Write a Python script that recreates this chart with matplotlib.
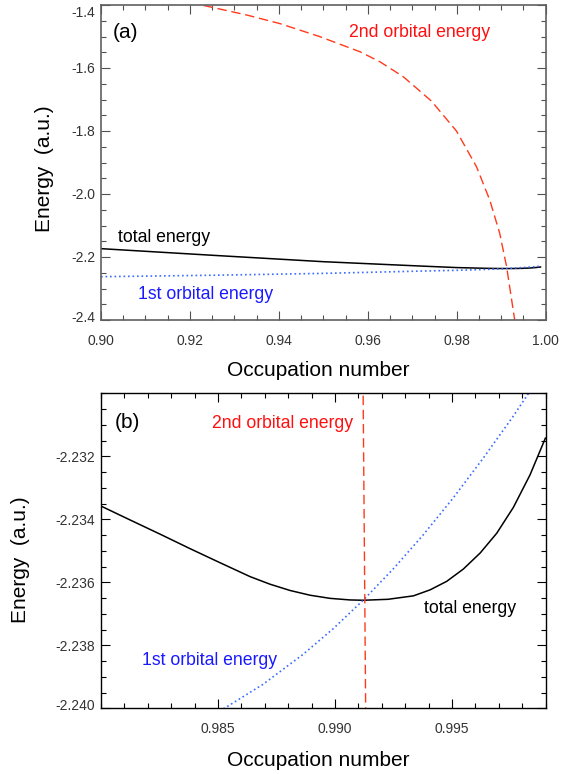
import matplotlib
matplotlib.use("Agg")
import matplotlib.pyplot as plt
import matplotlib.transforms as mtransforms
import numpy as np

plt.rcParams['font.family'] = ['Liberation Sans', 'DejaVu Sans']

# ---------------- data ----------------
occ_total = [0.900, 0.925, 0.950, 0.9717, 0.98000, 0.98124, 0.98252, 0.98380, 0.98509,
             0.98637, 0.98722, 0.98808, 0.98893, 0.98979, 0.99064, 0.99120, 0.99226,
             0.99335, 0.99406, 0.99477, 0.99548, 0.99620, 0.99691, 0.99762, 0.99833,
             0.99900]
e_total = [-2.1735, -2.1945, -2.2149, -2.2286, -2.23358, -2.23402, -2.23447, -2.23493,
           -2.23538, -2.23582, -2.23606, -2.23626, -2.23641, -2.23651, -2.23656,
           -2.23657, -2.23654, -2.23643, -2.23624, -2.23597, -2.23558, -2.23507,
           -2.23444, -2.23362, -2.23259, -2.23140]

occ_first = [0.900, 0.925, 0.950, 0.9717, 0.98000, 0.98534, 0.98692, 0.98863, 0.98991,
             0.99120, 0.99248, 0.99376, 0.99504, 0.99632, 0.99761, 0.99825, 0.99900]
e_first = [-2.2625, -2.2580, -2.2520, -2.2448, -2.2422, -2.23997, -2.23924, -2.23829,
           -2.23748, -2.23657, -2.23558, -2.23450, -2.23333, -2.23207, -2.23073,
           -2.23002, -2.22916]

occ_second = [0.9200, 0.92263, 0.93274, 0.94022, 0.94921, 0.95820, 0.96270, 0.96800,
              0.97431, 0.97993, 0.98443, 0.98742, 0.98966, 0.99120, 0.99303, 0.99320]
e_second = [-1.3900, -1.4000, -1.4317, -1.4590, -1.5005, -1.5482, -1.5800, -1.6280,
            -1.7050, -1.8000, -1.9132, -2.0190, -2.1248, -2.2300, -2.4000, -2.4200]

xticks_a = [0.90, 0.92, 0.94, 0.96, 0.98, 1.00]
xticklabels_a = ['0.90', '0.92', '0.94', '0.96', '0.98', '1.00']
yticks_a = [-2.4, -2.2, -2.0, -1.8, -1.6, -1.4]
yticklabels_a = ['-2.4', '-2.2', '-2.0', '-1.8', '-1.6', '-1.4']

xticks_b = [0.985, 0.990, 0.995]
xticklabels_b = ['0.985', '0.990', '0.995']
yticks_b = [-2.240, -2.238, -2.236, -2.234, -2.232]
yticklabels_b = ['-2.240', '-2.238', '-2.236', '-2.234', '-2.232']

labels_series = ['total energy', '1st orbital energy', '2nd orbital energy']

# ---------------- styling ----------------
W, H = 574, 774
DPI = 100
fig = plt.figure(figsize=(W / DPI, H / DPI), dpi=DPI)

def px_rect(l, t, r, b):
    return [l / W, 1 - b / H, (r - l) / W, (b - t) / H]

ax_a = fig.add_axes(px_rect(101, 5, 545.7, 320))
ax_b = fig.add_axes(px_rect(101, 393.3, 545.7, 708.3))

BLACK = '#000000'
BLUE_LINE = '#3a6cff'
RED_LINE = '#ff3a1a'
BLUE_TXT = '#1a1aff'
RED_TXT = '#ff1010'
TICK_TXT = '#333333'

for ax in (ax_a, ax_b):
    ax.plot(occ_total, e_total, color=BLACK, lw=1.1, solid_capstyle='butt',
            solid_joinstyle='round')
    ax.plot(occ_first, e_first, color=BLUE_LINE, lw=1.2, linestyle=(0, (1.0, 1.7)))
    ax.plot(occ_second, e_second, color=RED_LINE, lw=1.0, linestyle=(0, (6.8, 3.4)))
    ax.tick_params(which='both', direction='in', top=True, right=True,
                   labelsize=10, labelcolor=TICK_TXT, width=0.8)
    ax.tick_params(which='major', length=6.5)
    ax.tick_params(which='minor', length=3.6)
    ax.tick_params(axis='x', which='major', pad=10)
    ax.tick_params(axis='y', which='major', pad=4)

# panel (a)
ax_a.set_xlim(0.90, 1.00)
ax_a.set_ylim(-2.4, -1.4)
ax_a.set_xticks(xticks_a)
ax_a.set_xticklabels(xticklabels_a)
ax_a.set_yticks(yticks_a)
ax_a.set_yticklabels(yticklabels_a)
ax_a.set_xticks(np.arange(0.90, 1.0001, 0.005), minor=True)
ax_a.set_yticks(np.arange(-2.4, -1.3999, 0.05), minor=True)
for s in ax_a.spines.values():
    s.set_color('#606060')
    s.set_linewidth(1.2)
ax_a.tick_params(which='both', color='#505050')

# panel (b)
ax_b.set_xlim(0.980, 0.999)
ax_b.set_ylim(-2.240, -2.230)
ax_b.set_xticks(xticks_b)
ax_b.set_xticklabels(xticklabels_b)
ax_b.set_yticks(yticks_b)
ax_b.set_yticklabels(yticklabels_b)
ax_b.set_xticks(np.arange(0.980, 0.9991, 0.001), minor=True)
ax_b.set_yticks(np.arange(-2.240, -2.22999, 0.0005), minor=True)
for s in ax_b.spines.values():
    s.set_color('#000000')
    s.set_linewidth(1.0)

# shift the edge y tick labels like the reference
def shift_label(lbl, dy_px):
    lbl.set_transform(lbl.get_transform() +
                      mtransforms.ScaledTranslation(0, dy_px / DPI, fig.dpi_scale_trans))

ylabs_a = ax_a.get_yticklabels()
shift_label(ylabs_a[0], 3)
shift_label(ylabs_a[-1], -7)
ylabs_b = ax_b.get_yticklabels()
shift_label(ylabs_b[0], 4)

# ---------------- texts ----------------
def ftext(xp, yp, s, **kw):
    fig.text(xp / W, 1 - yp / H, s, **kw)

FS_LAB = 12.7
ftext(112.5, 32.5, '(a)', fontsize=15, va='center', ha='left')
ftext(115, 422, '(b)', fontsize=15, va='center', ha='left')

ftext(349.3, 37.3, labels_series[2], color=RED_TXT, fontsize=FS_LAB, ha='left', va='baseline')
ftext(118.3, 242.3, labels_series[0], color=BLACK, fontsize=FS_LAB, ha='left', va='baseline')
ftext(138.3, 299, labels_series[1], color=BLUE_TXT, fontsize=FS_LAB, ha='left', va='baseline')

ftext(212.3, 427.7, labels_series[2], color=RED_TXT, fontsize=FS_LAB, ha='left', va='baseline')
ftext(424, 613.3, labels_series[0], color=BLACK, fontsize=FS_LAB, ha='left', va='baseline')
ftext(141.7, 665, labels_series[1], color=BLUE_TXT, fontsize=FS_LAB, ha='left', va='baseline')

ftext(318, 376, 'Occupation number', fontsize=15, ha='center', va='baseline')
ftext(318, 765.7, 'Occupation number', fontsize=15, ha='center', va='baseline')
ftext(45, 168.5, 'Energy  (a.u.)', fontsize=15, ha='center', va='center', rotation=90)
ftext(21, 560, 'Energy  (a.u.)', fontsize=15, ha='center', va='center', rotation=90)

fig.savefig('out.png', dpi=DPI)
